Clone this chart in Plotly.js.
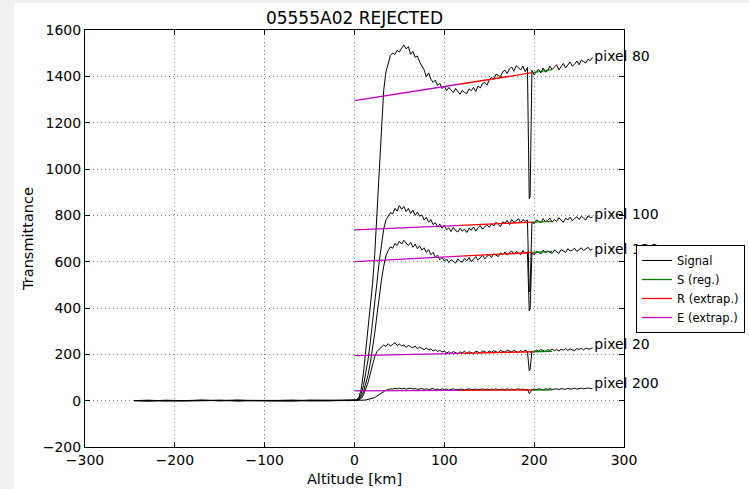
<!DOCTYPE html>
<html>
<head>
<meta charset="utf-8">
<script src="https://cdn.plot.ly/plotly-3.0.1.min.js"></script>
<style>
  html, body { margin: 0; padding: 0; background: #f1f1f1; width: 749px; height: 489px; overflow: hidden; }
  #chart { position: absolute; left: 14px; top: 3px; width: 735px; height: 486px; background: #ffffff; }
</style>
</head>
<body>
<div id="chart"></div>
<script>
// ---------------- data ----------------
const altPre = [-245, -230, -210, -190, -170, -150, -130, -110, -90, -70, -50, -30, -15, -5];
const altMain = [
  0, 2.5, 5, 7.5, 10, 12.5, 15, 17.5, 20, 22.5,
  25, 27.5, 30, 32.5, 35, 37.5, 40, 42.5, 45, 47.5,
  50, 52.5, 55, 57.5, 60, 62.5, 65, 67.5, 70, 72.5,
  75, 77.5, 80, 82.5, 85, 87.5, 90, 92.5, 95, 97.5,
  100, 102.5, 105, 107.5, 110, 112.5, 115, 117.5, 120, 122.5,
  125, 127.5, 130, 132.5, 135, 137.5, 140, 142.5, 145, 147.5,
  150, 152.5, 155, 157.5, 160, 162.5, 165, 167.5, 170, 172.5,
  175, 177.5, 180, 182.5, 185, 187.5, 190, 192.5, 194.5, 195.5, 197.5,
  200, 202.5, 205, 207.5, 210, 212.5, 215, 217.5, 220, 222.5,
  225, 227.5, 230, 232.5, 235, 237.5, 240, 242.5, 245, 247.5,
  250, 252.5, 255, 257.5, 260, 262.5, 265
];

const pix80Pre = [1, -2, 2, 0, 3, -1, 2, 0, 1, -2, 2, 0, 1, 0];
const pix80 = [
  2, 4, 15, 50, 120, 220, 300, 390, 500, 630,
  800, 990, 1180, 1340, 1420, 1462, 1490, 1500, 1495, 1512,
  1505, 1522, 1535, 1518, 1528, 1495, 1508, 1482, 1488, 1462,
  1445, 1428, 1398, 1415, 1388, 1374, 1384, 1360, 1370, 1347,
  1358, 1338, 1352, 1342, 1330, 1348, 1336, 1322, 1340, 1330,
  1326, 1346, 1338, 1352, 1334, 1358, 1350, 1368, 1374, 1362,
  1384, 1396, 1386, 1410, 1404, 1398, 1420, 1426, 1412, 1432,
  1440, 1422, 1446, 1436, 1428, 1444, 1420, 1438, 872, 880, 1426,
  1406, 1422, 1430, 1414, 1436, 1418, 1424, 1444, 1430, 1438,
  1450, 1428, 1442, 1456, 1436, 1448, 1462, 1444, 1452, 1466,
  1450, 1470, 1462, 1458, 1474, 1468, 1482
];

const pix100Pre = [0, 2, -1, 1, 0, 2, -2, 1, 0, 2, -1, 1, 0, 1];
const pix100 = [
  1, 3, 10, 30, 65, 115, 175, 250, 330, 420,
  510, 600, 680, 740, 780, 798, 812, 806, 830, 818,
  842, 826, 838, 816, 830, 808, 822, 800, 814, 796,
  802, 780, 792, 770, 782, 760, 768, 750, 762, 744,
  756, 738, 746, 730, 748, 734, 728, 744, 732, 740,
  726, 744, 736, 750, 732, 746, 756, 740, 752, 760,
  748, 764, 754, 770, 760, 752, 772, 766, 778, 760,
  782, 770, 776, 786, 768, 782, 774, 780, 470, 478, 770,
  764, 780, 774, 768, 786, 772, 778, 788, 770, 782,
  774, 790, 778, 770, 788, 780, 792, 776, 786, 794,
  782, 796, 788, 780, 798, 790, 792
];

const pix120Pre = [0, 1, 0, -1, 1, 0, 2, -1, 0, 1, 0, -1, 1, 0];
const pix120 = [
  1, 2, 6, 18, 38, 70, 110, 160, 220, 290,
  370, 450, 520, 580, 625, 648, 664, 658, 678, 670,
  688, 676, 692, 680, 670, 684, 662, 676, 656, 668,
  650, 660, 640, 652, 630, 640, 620, 628, 608, 618,
  602, 612, 596, 608, 600, 594, 612, 602, 598, 614,
  604, 618, 600, 612, 622, 606, 616, 628, 612, 624,
  630, 618, 634, 626, 622, 638, 630, 642, 628, 640,
  646, 632, 644, 638, 630, 648, 636, 642, 388, 396, 638,
  630, 644, 640, 634, 650, 638, 646, 642, 636, 650,
  642, 636, 652, 644, 640, 656, 646, 650, 658, 644,
  652, 660, 648, 656, 662, 650, 654
];

const pix20Pre = [0, 0, 1, 0, -1, 0, 1, 0, 0, -1, 0, 1, 0, 0];
const pix20 = [
  1, 1, 3, 10, 25, 48, 78, 115, 155, 190,
  212, 224, 232, 240, 234, 246, 236, 243, 250, 238,
  244, 236, 241, 230, 238, 233, 228, 236, 224, 231,
  226, 220, 228, 218, 223, 214, 220, 212, 217, 210,
  213, 206, 211, 204, 212, 207, 203, 211, 206, 214,
  205, 211, 208, 203, 214, 209, 206, 215, 210, 207,
  214, 209, 216, 211, 207, 217, 212, 209, 218, 213,
  210, 217, 213, 208, 216, 211, 218, 213, 130, 136, 212,
  210, 218, 214, 221, 215, 212, 220, 217, 223, 216,
  221, 214, 222, 218, 225, 217, 223, 220, 216, 225,
  221, 226, 219, 227, 223, 224, 228
];

const pix200Pre = [0, 0, 0, 1, 0, 0, -1, 0, 0, 0, 1, 0, 0, 0];
const pix200 = [
  0, 0, 0, 1, 2, 3, 5, 7, 9, 13,
  20, 27, 34, 40, 45, 48, 51, 50, 53, 51,
  54, 51, 53, 50, 52, 54, 50, 52, 49, 51,
  52, 49, 51, 48, 50, 52, 48, 50, 47, 51,
  48, 50, 46, 49, 51, 47, 49, 48, 50, 46,
  49, 51, 47, 48, 50, 47, 49, 51, 48, 50,
  47, 50, 48, 51, 47, 49, 50, 47, 51, 48,
  50, 47, 49, 51, 48, 50, 47, 49, 31, 34, 48,
  50, 48, 51, 49, 47, 51, 49, 52, 48, 50,
  51, 48, 52, 50, 49, 53, 50, 51, 54, 50,
  52, 54, 51, 53, 55, 52, 53
];

// pixel labels
const pixelNames = ['pixel 80', 'pixel 100', 'pixel 120', 'pixel 20', 'pixel 200'];
const labelAlt = [267, 267, 267, 267, 267];
const labelY = [1483, 801, 650, 240, 68];

// linear fit: value at 0 km and value at 220 km
const fitAt0 = [1295, 737, 600, 194, 42];
const fitAt220 = [1429, 774, 644, 213, 46.4];
// segment boundaries [km]: E (extrap.) 0-118, R (extrap.) 118-198, S (reg.) 198-220
const segE = [0, 118];
const segR = [118, 198];
const segS = [198, 220];

// ---------------- traces ----------------
const signals = [
  pix80Pre.concat(pix80), pix100Pre.concat(pix100), pix120Pre.concat(pix120),
  pix20Pre.concat(pix20), pix200Pre.concat(pix200)
];
const alt = altPre.concat(altMain);

const traces = [];
signals.forEach((s, k) => {
  traces.push({
    x: alt, y: s, type: 'scatter', mode: 'lines',
    line: { color: '#000000', width: 1 },
    name: 'Signal', showlegend: k === 0, legendrank: 1, hoverinfo: 'skip'
  });
});

const fitColors = { S: '#008000', R: '#ff0000', E: '#c000c0' };
const fitNames = { S: 'S (reg.)', R: 'R (extrap.)', E: 'E (extrap.)' };
const segs = { E: segE, R: segR, S: segS };
const ranks = { S: 2, R: 3, E: 4 };
function fitVal(k, x) { return fitAt0[k] + (fitAt220[k] - fitAt0[k]) * x / 220; }

['S', 'R', 'E'].forEach(key => {
  for (let k = 0; k < fitAt0.length; k++) {
    const sg = segs[key];
    traces.push({
      x: sg, y: [fitVal(k, sg[0]), fitVal(k, sg[1])],
      type: 'scatter', mode: 'lines',
      line: { color: fitColors[key], width: 1.3 },
      name: fitNames[key], showlegend: k === 0, legendrank: ranks[key], hoverinfo: 'skip'
    });
  }
});

traces.push({
  x: labelAlt, y: labelY, text: pixelNames, type: 'scatter', mode: 'text',
  textposition: 'middle right', cliponaxis: false, showlegend: false,
  textfont: { family: 'DejaVu Sans', size: 14, color: '#000000' }, hoverinfo: 'skip'
});

const axisCommon = {
  showline: true, linecolor: '#000000', linewidth: 1, mirror: 'ticks',
  ticks: 'inside', ticklen: 5, tickcolor: '#000000', tickwidth: 1,
  showgrid: true, gridcolor: '#808080', griddash: '1px,3px', gridwidth: 1,
  zeroline: false, automargin: false,
  tickfont: { family: 'DejaVu Sans', size: 14, color: '#000000' }
};

const layout = {
  width: 735, height: 486,
  margin: { l: 71, r: 125, t: 27, b: 42, pad: 0 },
  paper_bgcolor: '#ffffff', plot_bgcolor: '#ffffff',
  font: { family: 'DejaVu Sans', color: '#000000' },
  title: {
    text: '05555A02 REJECTED', font: { family: 'DejaVu Sans', size: 17, color: '#000000' },
    x: 0.5, xref: 'paper', y: 1 - 15 / 486, yref: 'container', yanchor: 'middle'
  },
  xaxis: Object.assign({}, axisCommon, {
    range: [-300, 300], dtick: 100, tick0: 0,
    title: { text: 'Altitude [km]', font: { family: 'DejaVu Sans', size: 14.5, color: '#000000' }, standoff: 7 }
  }),
  yaxis: Object.assign({}, axisCommon, {
    range: [-200, 1600], dtick: 200, tick0: 0,
    title: { text: 'Transmittance', font: { family: 'DejaVu Sans', size: 14.5, color: '#000000' }, standoff: 5 }
  }),
  legend: {
    x: (636 - 14) / 735, xref: 'container', xanchor: 'left',
    y: 1 - (245 - 3) / 486, yref: 'container', yanchor: 'top',
    bgcolor: '#ffffff', bordercolor: '#000000', borderwidth: 1,
    font: { family: 'DejaVu Sans', size: 11.5, color: '#000000' },
    traceorder: 'normal', tracegroupgap: 0
  },
  showlegend: true
};

Plotly.newPlot('chart', traces, layout, { staticPlot: true, displayModeBar: false });
</script>
</body>
</html>
